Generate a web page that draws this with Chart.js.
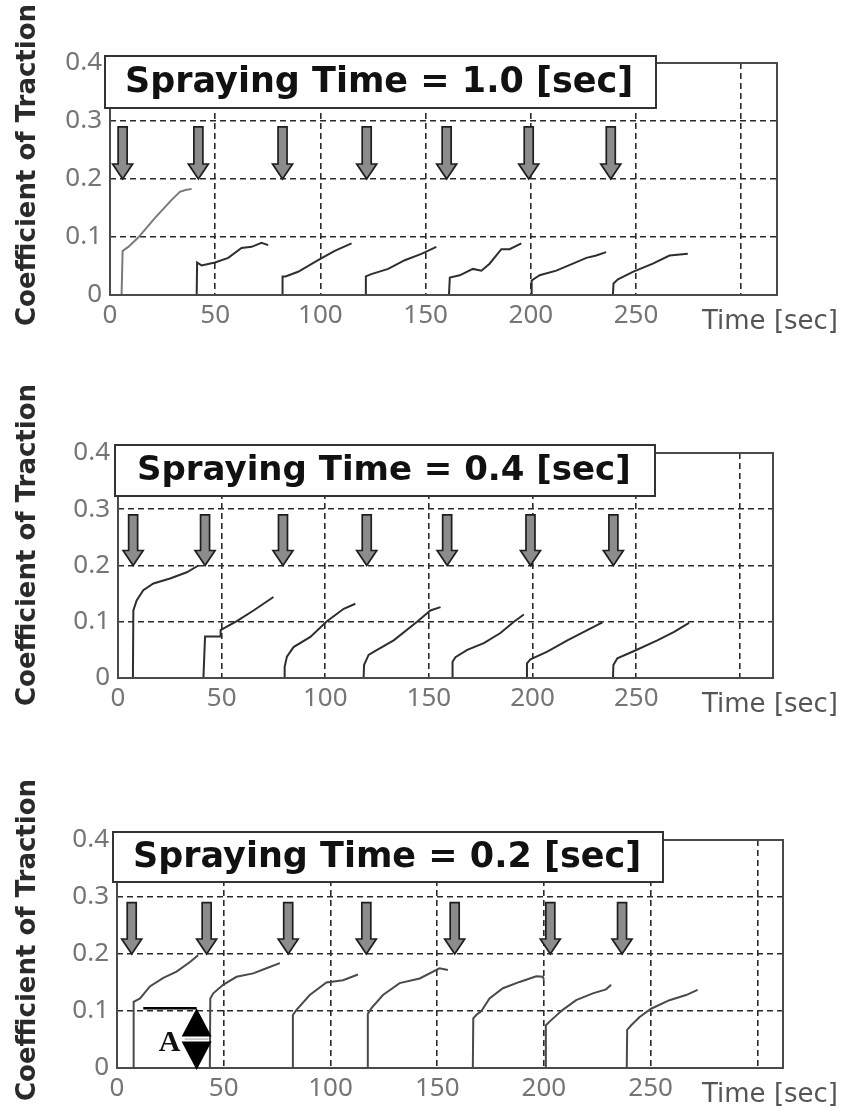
<!DOCTYPE html>
<html>
<head>
<meta charset="utf-8">
<script src="https://cdn.jsdelivr.net/npm/chart.js@4.4.1/dist/chart.umd.min.js"></script>
<style>
  html, body { margin: 0; padding: 0; background: #fff; }
  #wrap { position: relative; width: 842px; height: 1118px; overflow: hidden; background: #fff; }
  canvas { position: absolute; left: 0; }
</style>
</head>
<body>
<div id="wrap">
  <canvas id="c10" width="842" height="345" style="top:0px"></canvas>
  <canvas id="c04" width="842" height="370" style="top:360px"></canvas>
  <canvas id="c02" width="842" height="378" style="top:740px"></canvas>
</div>
<script>
// ---- axes ----
const xGridTicks = [0, 50, 100, 150, 200, 250, 300];
const xLabelTicks = [0, 50, 100, 150, 200, 250];
const yTicks = [0, 0.1, 0.2, 0.3, 0.4];
const yTickLabels = ['0', '0.1', '0.2', '0.3', '0.4'];

// ---- spraying time 1.0 s : traces [time s, coefficient of traction] ----
const run10a = [[5.5,0],[6,0.076],[8.7,0.083],[13.4,0.099],[21.4,0.133],[29.3,0.164],[33.2,0.178],[35.9,0.181],[38.8,0.183]];
const run10b = [[41.2,0],[41.4,0.056],[43.5,0.051],[49.9,0.056],[56.2,0.064],[62.5,0.081],[67.3,0.083],[72,0.090],[75.2,0.086]];
const run10c = [[81.8,0],[82,0.032],[83.4,0.032],[89.4,0.040],[98.9,0.060],[106.8,0.076],[114.8,0.089]];
const run10d = [[121.4,0],[121.6,0.032],[124.2,0.036],[132.2,0.045],[140.1,0.060],[148,0.071],[155.1,0.083]];
const run10e = [[161.1,0],[161.5,0.030],[166.2,0.034],[172.5,0.045],[176.5,0.042],[180.4,0.054],[186,0.079],[189.9,0.079],[195.5,0.089]];
const run10f = [[200.2,0],[200.4,0.025],[204.2,0.034],[212.1,0.042],[220,0.054],[226.4,0.064],[231.1,0.068],[235.8,0.074]];
const run10g = [[239,0],[239.3,0.020],[241.4,0.027],[248.5,0.040],[258,0.054],[265.9,0.068],[274.6,0.071]];
const spray10 = [6, 42, 82, 122, 160, 199, 238];

// ---- spraying time 0.4 s ----
const run04a = [[1,0],[7.2,0],[7.4,0.120],[9,0.138],[12.2,0.156],[17.1,0.168],[25.1,0.177],[33.2,0.188],[38.8,0.200]];
const run04b = [[35.6,0],[41.2,0],[42,0.074],[49.3,0.074],[49.5,0.085],[57.3,0.101],[65.4,0.120],[75,0.144]];
const run04c = [[80.2,0],[80.4,0.020],[81.5,0.038],[84.7,0.055],[92.8,0.073],[100.8,0.101],[108.9,0.123],[114.5,0.132]];
const run04d = [[118.5,0],[118.7,0.023],[120.9,0.041],[125,0.050],[133,0.067],[144.3,0.100],[150.7,0.120],[155.6,0.126]];
const run04e = [[161.2,0],[161.4,0.029],[162.8,0.037],[168.5,0.050],[176.5,0.062],[184.5,0.080],[191,0.100],[195.8,0.113]];
const run04f = [[197.1,0],[197.3,0.026],[199,0.033],[207.1,0.047],[216.8,0.067],[226.4,0.085],[233.7,0.099]];
const run04g = [[238.8,0],[239,0.023],[240.9,0.035],[249,0.048],[260.2,0.067],[268.3,0.082],[275.5,0.098]];
const spray04 = [7.3, 42, 79.6, 120, 158.8, 199, 239];

// ---- spraying time 0.2 s ----
const run02a = [[7.6,0],[7.8,0.116],[10.8,0.122],[15.4,0.143],[21.7,0.158],[27.9,0.169],[34.2,0.186],[38,0.198]];
const run02b = [[43.5,0],[43.7,0.122],[45.1,0.131],[49.7,0.146],[56,0.160],[63.8,0.166],[70,0.175],[76.3,0.184]];
const run02c = [[82.2,0],[82.4,0.093],[84.1,0.102],[90.3,0.128],[98.1,0.150],[105.9,0.154],[112.9,0.164]];
const run02d = [[117.3,0],[117.5,0.095],[119.2,0.105],[124.6,0.128],[132.4,0.149],[141.8,0.157],[151.1,0.175],[155,0.172]];
const run02e = [[166.7,0],[166.9,0.087],[168.3,0.093],[170.7,0.100],[174.5,0.122],[180.8,0.140],[188.6,0.151],[196.4,0.161],[199.5,0.160],[200,0.155]];
const run02f = [[200.7,0],[200.9,0.075],[203.4,0.084],[208.8,0.102],[215.1,0.119],[222.9,0.131],[229.1,0.138],[231.5,0.146]];
const run02g = [[238.8,0],[239,0.067],[240.9,0.075],[244.7,0.089],[250.2,0.104],[258.8,0.119],[266.6,0.128],[272,0.137]];
const spray02 = [6.9, 42, 80.2, 116.8, 158.2, 203, 236.6];

// initial step "A" of the first cycle (0.2 s)
const stepA = { xFrom: 12.3, xAt: 37.3, level: 0.105, labelX: 24.6, labelY: 0.044 };

const arrowTop = 0.29, arrowTip = 0.2;

// ---- drawing helpers ----
function drawSprayArrow(ctx, cx, yTop, yTip) {
  const sw = 4.5, hw = 10, hh = 15;
  ctx.beginPath();
  ctx.moveTo(cx - sw, yTop);
  ctx.lineTo(cx + sw, yTop);
  ctx.lineTo(cx + sw, yTip - hh);
  ctx.lineTo(cx + hw, yTip - hh);
  ctx.lineTo(cx, yTip);
  ctx.lineTo(cx - hw, yTip - hh);
  ctx.lineTo(cx - sw, yTip - hh);
  ctx.closePath();
  ctx.fillStyle = '#8c8c8c';
  ctx.fill();
  ctx.lineWidth = 1.7;
  ctx.strokeStyle = '#1e1e1e';
  ctx.stroke();
}

const decor = {
  id: 'decor',
  afterDatasetsDraw(chart, args, o) {
    const { ctx, chartArea: a } = chart;
    const x = chart.scales.x, y = chart.scales.y;
    ctx.save();

    // plot frame
    ctx.setLineDash([]);
    ctx.strokeStyle = '#4a4a4a';
    ctx.lineWidth = 2;
    ctx.strokeRect(a.left, a.top, a.right - a.left, a.bottom - a.top);

    // spraying moments
    o.sprays.forEach(t => {
      drawSprayArrow(ctx, x.getPixelForValue(t), y.getPixelForValue(arrowTop), y.getPixelForValue(arrowTip));
    });

    // step annotation
    if (o.step) {
      const s = o.step;
      const cx = x.getPixelForValue(s.xAt);
      const yt = y.getPixelForValue(s.level);
      const yb = y.getPixelForValue(0) + 2;
      const ym = (yt + yb) / 2;
      ctx.strokeStyle = '#000';
      ctx.lineWidth = 2.5;
      ctx.beginPath();
      ctx.moveTo(x.getPixelForValue(s.xFrom), yt);
      ctx.lineTo(cx, yt);
      ctx.stroke();
      ctx.fillStyle = '#000';
      ctx.beginPath();
      ctx.moveTo(cx, yt); ctx.lineTo(cx + 15, ym - 2.5); ctx.lineTo(cx - 15, ym - 2.5); ctx.closePath();
      ctx.fill();
      ctx.beginPath();
      ctx.moveTo(cx, yb); ctx.lineTo(cx + 15, ym + 2.5); ctx.lineTo(cx - 15, ym + 2.5); ctx.closePath();
      ctx.fill();
      ctx.strokeStyle = '#9a9a9a';
      ctx.lineWidth = 1;
      ctx.beginPath();
      ctx.moveTo(cx - 12, ym); ctx.lineTo(cx + 12, ym);
      ctx.stroke();
      ctx.fillStyle = '#111';
      ctx.font = 'bold 30px "Liberation Serif"';
      ctx.textAlign = 'center';
      ctx.textBaseline = 'middle';
      ctx.fillText('A', x.getPixelForValue(s.labelX), y.getPixelForValue(s.labelY));
    }

    // title box
    const b = o.box;
    const bx = a.left + b.dx, by = a.top + b.dy;
    ctx.fillStyle = '#fff';
    ctx.fillRect(bx, by, b.w, b.h);
    ctx.strokeStyle = '#333';
    ctx.lineWidth = 2;
    ctx.strokeRect(bx, by, b.w, b.h);
    ctx.fillStyle = '#111';
    ctx.font = 'bold ' + b.size + 'px "DejaVu Sans"';
    ctx.textAlign = 'left';
    ctx.textBaseline = 'middle';
    ctx.fillText(o.title, bx + b.pad, by + b.h / 2 + 1);

    // axis titles
    ctx.fillStyle = '#555';
    ctx.font = '26px "DejaVu Sans"';
    ctx.textAlign = 'right';
    ctx.textBaseline = 'middle';
    ctx.fillText('Time [sec]', 838, a.bottom + 27);

    ctx.translate(28, o.yTitleY);
    ctx.rotate(-Math.PI / 2);
    ctx.fillStyle = '#2a2a2a';
    ctx.font = 'bold 26px "DejaVu Sans"';
    ctx.textAlign = 'center';
    ctx.fillText('Coefficient of Traction', 0, 0);
    ctx.restore();
  }
};

function makePanel(id, g, runs, colors, sprays, title, step) {
  const tickFont = { family: 'Noto Sans', size: 26 };
  const gridStyle = { color: '#2a2a2a', lineWidth: 1.6, drawTicks: false, borderDash: [6, 4] };
  new Chart(document.getElementById(id), {
    type: 'line',
    data: {
      datasets: runs.map((r, i) => ({
        data: r,
        borderColor: colors[i],
        borderWidth: 2,
        pointRadius: 0,
        tension: 0,
        fill: false
      }))
    },
    options: {
      responsive: false,
      animation: false,
      devicePixelRatio: 1,
      layout: { padding: { top: g.top, right: 842 - g.right, bottom: 0, left: 0 } },
      plugins: {
        legend: { display: false },
        tooltip: { enabled: false },
        decor: { sprays, title, step, box: g.box, yTitleY: g.yTitleY }
      },
      scales: {
        x: {
          type: 'linear',
          min: 0, max: g.xMax,
          afterBuildTicks: s => { s.ticks = xGridTicks.map(v => ({ value: v })); },
          afterFit: s => { s.height = g.xAxisH; },
          ticks: {
            callback: v => xLabelTicks.includes(v) ? String(v) : '',
            color: '#757575', font: tickFont, padding: 5,
            maxRotation: 0, autoSkip: false
          },
          grid: gridStyle,
          border: { display: false, dash: [6, 4] }
        },
        y: {
          type: 'linear',
          min: 0, max: 0.4,
          afterBuildTicks: s => { s.ticks = yTicks.map(v => ({ value: v })); },
          afterFit: s => { s.width = g.left; },
          ticks: {
            callback: (v, i) => yTickLabels[i],
            color: '#757575', font: tickFont, padding: 8
          },
          grid: gridStyle,
          border: { display: false, dash: [6, 4] }
        }
      }
    },
    plugins: [decor]
  });
}

const dark = '#2e2e2e', mid = '#4a4a4a', light = '#7a7a7a';

makePanel('c10',
  { left: 110, right: 777, top: 63, xAxisH: 50, xMax: 317, yTitleY: 165,
    box: { dx: -5, dy: -7, w: 551, h: 52, pad: 20, size: 35 } },
  [run10a, run10b, run10c, run10d, run10e, run10f, run10g],
  [light, dark, dark, dark, dark, dark, dark],
  spray10, 'Spraying Time = 1.0 [sec]', null);

makePanel('c04',
  { left: 118, right: 773, top: 93, xAxisH: 52, xMax: 316, yTitleY: 185,
    box: { dx: -3, dy: -8, w: 540, h: 51, pad: 22, size: 34 } },
  [run04a, run04b, run04c, run04d, run04e, run04f, run04g],
  [dark, dark, dark, dark, dark, dark, dark],
  spray04, 'Spraying Time = 0.4 [sec]', null);

makePanel('c02',
  { left: 117, right: 783, top: 100, xAxisH: 50, xMax: 312, yTitleY: 200,
    box: { dx: -4, dy: -8, w: 550, h: 50, pad: 20, size: 35 } },
  [run02a, run02b, run02c, run02d, run02e, run02f, run02g],
  [mid, mid, mid, mid, mid, mid, mid],
  spray02, 'Spraying Time = 0.2 [sec]', stepA);
</script>
</body>
</html>
